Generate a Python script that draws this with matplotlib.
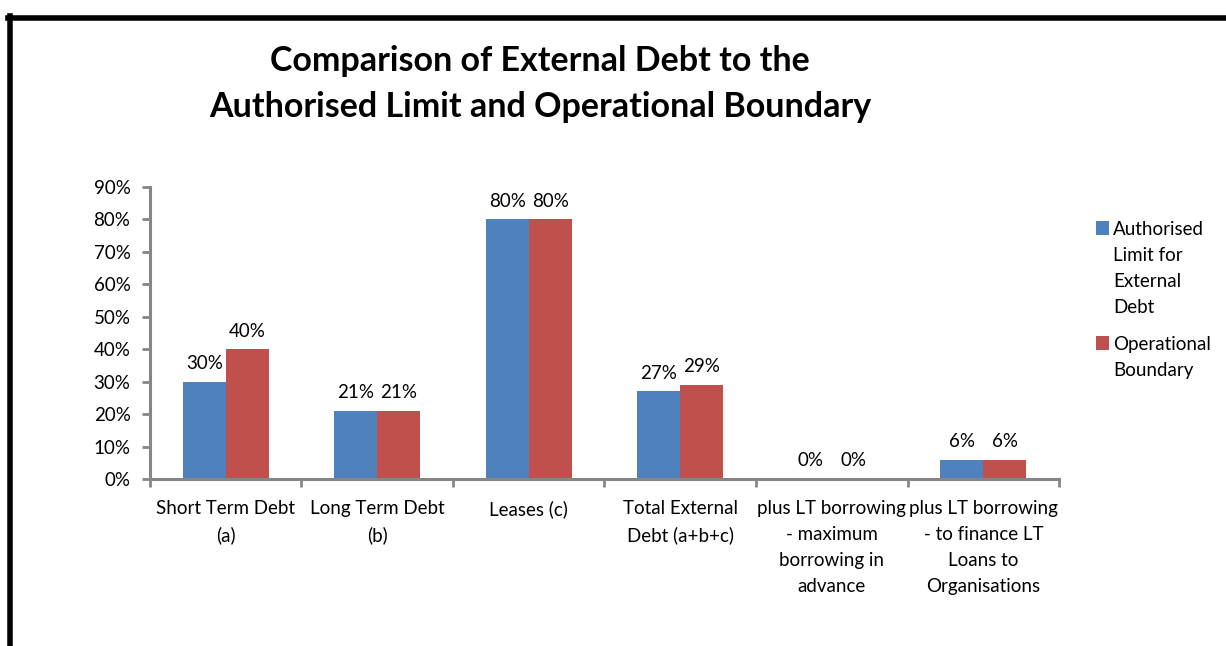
import matplotlib
matplotlib.use("Agg")
import matplotlib.pyplot as plt
from matplotlib.lines import Line2D
from matplotlib.patches import Rectangle
import numpy as np

plt.rcParams['font.family'] = ['Lato', 'DejaVu Sans']

title = "Comparison of External Debt to the\nAuthorised Limit and Operational Boundary"
categories = ["Short Term Debt\n(a)", "Long Term Debt\n(b)", "Leases (c)",
              "Total External\nDebt (a+b+c)",
              "plus LT borrowing\n- maximum\nborrowing in\nadvance",
              "plus LT borrowing\n- to finance LT\nLoans to\nOrganisations"]
series_names = ["Authorised\nLimit for\nExternal\nDebt", "Operational\nBoundary"]
authorised = [30, 21, 80, 27, 0, 6]
operational = [40, 21, 80, 29, 0, 6]
yticks = [0, 10, 20, 30, 40, 50, 60, 70, 80, 90]
colors = ["#4F81BD", "#C0504D"]

FS = 13.5

fig = plt.figure(figsize=(12.26, 6.46), dpi=100)
ax = fig.add_axes([0.1223, 0.2585, 0.8638 - 0.1223, 0.7105 - 0.2585])

x = np.arange(len(categories))
w = 0.284
for i, (vals, c) in enumerate(zip([authorised, operational], colors)):
    xs = x + (i - 0.5) * w
    ax.bar(xs, vals, width=w, color=c, edgecolor='none', zorder=2)
    for xi, v in zip(xs, vals):
        ax.annotate(f"{v}%", (xi, v), xytext=(0, 7), textcoords='offset points',
                    ha='center', va='bottom', fontsize=FS, color='#000000')

ax.set_xlim(-0.5, len(categories) - 0.5)
ax.set_ylim(0, 90)
ax.set_yticks(yticks)
ax.set_yticklabels([f"{t}%" for t in yticks], fontsize=FS)
ax.set_xticks(np.arange(len(categories) + 1) - 0.5)
ax.set_xticklabels([])
ax.set_xticks(x, minor=True)
ax.set_xticklabels(categories, minor=True, fontsize=FS, linespacing=1.64, va='top')
ax.tick_params(axis='x', which='minor', length=0, pad=15)
ax.tick_params(axis='x', which='major', length=6, width=2, color='#868686', direction='out')
ax.tick_params(axis='y', length=6, width=2, color='#868686', direction='out', pad=8)
for s in ['top', 'right']:
    ax.spines[s].set_visible(False)
for s in ['left', 'bottom']:
    ax.spines[s].set_color('#868686')
    ax.spines[s].set_linewidth(2.2)

fig.text(0.4405, 1 - 84 / 646, title, ha='center', va='center', fontsize=24.5,
         fontweight='bold', linespacing=1.55)

# legend
leg_y = [228, 343]
for name, c, yy in zip(series_names, colors, leg_y):
    fig.patches.append(Rectangle((1096 / 1226, 1 - (yy + 7) / 646), 13 / 1226, 14 / 646,
                                 transform=fig.transFigure, facecolor=c, edgecolor='none'))
    fig.text(1113 / 1226, 1 - (yy - 7) / 646, name, ha='left', va='top', fontsize=FS,
             linespacing=1.64, transform=fig.transFigure)

# border
fig.add_artist(Line2D([8 / 1226, 1.0], [1 - 17.5 / 646, 1 - 17.5 / 646],
                      transform=fig.transFigure, color='black', linewidth=4))
fig.add_artist(Line2D([10 / 1226, 10 / 1226], [1 - 15.5 / 646, 0],
                      transform=fig.transFigure, color='black', linewidth=4))

fig.savefig("out.png", dpi=100)
